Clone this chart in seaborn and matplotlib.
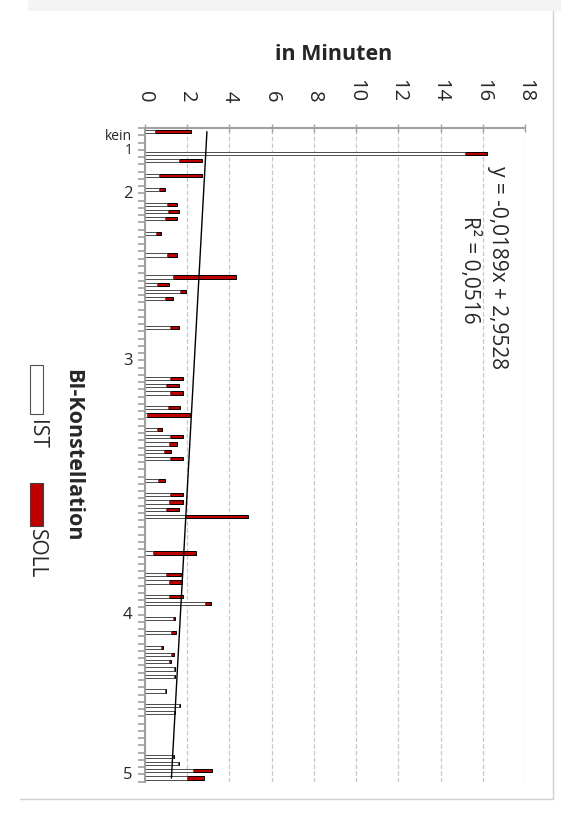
import numpy as np
import pandas as pd
import matplotlib
matplotlib.use("Agg")
import matplotlib.pyplot as plt
import seaborn as sns
from matplotlib.patches import Rectangle
from matplotlib.lines import Line2D
from matplotlib.ticker import FixedLocator

# ---------------- data ----------------
categories = [f"K{i + 1}" for i in range(90)]

ist = [
    0.49, None, None, 15.17, 1.60, None, 0.68, None, 0.68, None,
    1.06, 1.11, 0.93, None, 0.54, None, None, 1.06, None, None,
    1.31, 0.55, 1.66, 0.93, None, None, None, 1.17, None, None,
    None, None, None, None, 1.17, 0.98, 1.17, None, 1.11, 0.08,
    None, 0.57, 1.17, 1.14, 0.90, 1.17, None, None, 0.63, None,
    1.17, 1.12, 1.01, 1.90, None, None, None, None, 0.39, None,
    None, 0.98, 1.15, None, 1.15, 2.86, None, 1.33, None, 1.25,
    None, 0.75, 1.25, 1.15, 1.36, 1.36, None, 0.95, None, 1.61,
    1.35, None, None, None, None, None, 1.31, 1.54, 2.29, 2.01,
]
soll = [
    1.69, None, None, 1.02, 1.08, None, 2.01, None, 0.28, None,
    0.46, 0.49, 0.57, None, 0.20, None, None, 0.46, None, None,
    3.00, 0.59, 0.28, 0.41, None, None, None, 0.43, None, None,
    None, None, None, None, 0.62, 0.62, 0.62, None, 0.53, 2.05,
    None, 0.25, 0.62, 0.36, 0.32, 0.62, None, None, 0.33, None,
    0.62, 0.67, 0.62, 2.98, None, None, None, None, 2.03, None,
    None, 0.71, 0.62, None, 0.64, 0.25, None, 0.07, None, 0.20,
    None, 0.12, 0.12, 0.07, 0.06, 0.06, None, 0.04, None, 0.07,
    0.08, None, None, None, None, None, 0.08, 0.06, 0.88, 0.80,
]

cat_label_text = ["kein", "1", "2", "3", "4", "5"]
cat_label_index = [0, 2, 8, 31, 66, 88]
x_ticks = [0, 2, 4, 6, 8, 10, 12, 14, 16, 18]

trend_slope = -0.0189
trend_intercept = 2.9528
trend_eq = "y = -0,0189x + 2,9528"
trend_r2 = "R² = 0,0516"

x_title = "in Minuten"
legend_title = "BI-Konstellation"
series_names = ["IST", "SOLL"]

# ---------------- styling ----------------
sns.set_theme(style="white")
plt.rcParams["font.family"] = ["Open Sans", "DejaVu Sans"]

RED = "#c00000"
AXC = "#a0a0a0"
W, H = 561, 837


def fy(py):
    return 1 - py / H


df = pd.DataFrame({"cat": categories, "IST": ist, "SOLL": soll}).dropna()
df["total"] = df["IST"] + df["SOLL"]

fig = plt.figure(figsize=(W / 100, H / 100), dpi=100)
fig.patch.set_facecolor("white")

# page frame
fig.add_artist(Rectangle((28 / W, fy(12)), 1, 12 / H, transform=fig.transFigure,
                         facecolor="#f4f4f4", edgecolor="none"))
fig.add_artist(Line2D([553 / W, 553 / W], [fy(12), fy(800)], color="#d0d0d0", lw=1))
fig.add_artist(Line2D([20 / W, 553 / W], [fy(800), fy(800)], color="#d0d0d0", lw=1))

ax = fig.add_axes([145 / W, fy(782.7), 380 / W, (782.7 - 129) / H])
ax.set_facecolor("white")

sns.barplot(data=df, x="total", y="cat", order=categories, orient="h",
            color=RED, saturation=1, edgecolor="black", linewidth=0.7,
            width=0.45, errorbar=None, ax=ax)
sns.barplot(data=df, x="IST", y="cat", order=categories, orient="h",
            color="white", saturation=1, edgecolor="#505050", linewidth=0.7,
            width=0.45, errorbar=None, ax=ax)

# trendline (Excel linear trend over category number 1..90)
n = len(categories)
ax.plot([trend_intercept + trend_slope * 1, trend_intercept + trend_slope * n],
        [0, n - 1], color="black", lw=1.0, zorder=5)

ax.set_xlim(0, 18)
ax.set_ylim(n - 0.5, -0.5)

# x axis on top
ax.xaxis.tick_top()
ax.set_xticks(x_ticks)
ax.set_xticklabels([str(v) for v in x_ticks])
ax.tick_params(axis="x", which="major", direction="inout", length=6, width=1,
               color=AXC, pad=16, labelsize=14.5, labelrotation=-90,
               top=True, bottom=False, labeltop=True, labelbottom=False)
ax.set_xlabel("")

ax.xaxis.grid(True, color="#c8c8c8", linestyle=(0, (3.6, 1.8)), lw=0.9)
ax.yaxis.grid(False)
ax.set_axisbelow(True)

# y axis: labels at selected categories, ticks at every category boundary
ax.set_yticks([i + 0.2 for i in cat_label_index])
ax.set_yticklabels(cat_label_text)
ax.tick_params(axis="y", which="major", length=0, pad=9)
for lab in ax.get_yticklabels():
    lab.set_fontsize(10 if lab.get_text() in ("kein", "1") else 12)
ax.yaxis.set_minor_locator(FixedLocator(np.arange(-0.5, n, 1.0)))
ax.tick_params(axis="y", which="minor", direction="out", length=4.7, width=1.2,
               color=AXC, left=True)
ax.set_ylabel("")

for side in ("right", "bottom"):
    ax.spines[side].set_visible(False)
for side in ("top", "left"):
    ax.spines[side].set_visible(True)
    ax.spines[side].set_color(AXC)
    ax.spines[side].set_linewidth(1.5)

# texts
fig.text(334 / W, fy(55), x_title, ha="center", va="center",
         fontsize=15.5, fontweight="bold")
fig.text(497.5 / W, fy(268), trend_eq, rotation=-90, ha="center", va="center",
         fontsize=15)
fig.text(469.5 / W, fy(270), trend_r2, rotation=-90, ha="center", va="center",
         fontsize=15)

# legend (rotated, drawn manually)
fig.text(73 / W, fy(455), legend_title, rotation=-90, ha="center", va="center",
         fontsize=15.5, fontweight="bold")
fig.add_artist(Rectangle((30 / W, fy(415)), 13 / W, 49 / H, transform=fig.transFigure,
                         facecolor="white", edgecolor="#505050", lw=0.8))
fig.text(36.5 / W, fy(434), series_names[0], rotation=-90, ha="center", va="center",
         fontsize=15)
fig.add_artist(Rectangle((30 / W, fy(527)), 13 / W, 43 / H, transform=fig.transFigure,
                         facecolor=RED, edgecolor="#404040", lw=0.8))
fig.text(36.5 / W, fy(554), series_names[1], rotation=-90, ha="center", va="center",
         fontsize=15)

fig.savefig("out.png", dpi=100)
